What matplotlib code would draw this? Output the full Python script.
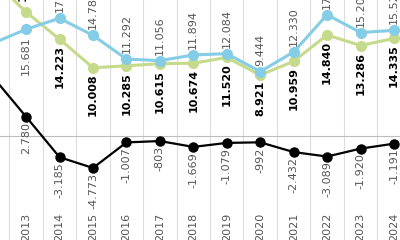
import matplotlib
matplotlib.use("Agg")
import matplotlib.pyplot as plt

plt.rcParams['font.family'] = ['Liberation Sans Narrow', 'DejaVu Sans']

# years (2012 is only partly visible at the left edge)
years = [2012, 2013, 2014, 2015, 2016, 2017, 2018, 2019, 2020, 2021, 2022, 2023, 2024]
# blue series (thousands)
blue = [13.6, 15.681, 17.311, 14.781, 11.292, 11.056, 11.894, 12.084, 9.444, 12.330, 17.832, 15.204, 15.521]
# green series (thousands)
green = [23.0, 18.217, 14.223, 10.008, 10.285, 10.615, 10.674, 11.520, 8.921, 10.959, 14.840, 13.286, 14.335]
# black series = difference (thousands)
black = [8.7, 2.780, -3.185, -4.773, -1.007, -0.803, -1.669, -1.079, -0.992, -2.432, -3.089, -1.920, -1.191]

BLUE = '#85cde6'
GREEN = '#c6da8c'
GRAY = '#555555'
FS = 8


def fmt(v):
    n = int(round(v * 1000))
    return f"{n:,}".replace(',', '.')


fig = plt.figure(figsize=(4, 2.4), dpi=100)
ax = fig.add_axes([0, 0, 1, 1])
ax.set_xlim(2012.22, 2024.18)
ax.set_ylim(-15.4, 20.0)
ax.axis('off')

# vertical separators between years
for y in years:
    ax.axvline(y + 0.5, color='#dcdcdc', lw=0.8, zorder=0)
ax.axhline(0, color='#bdbdbd', lw=0.8, zorder=0)

ax.plot(years, blue, color=BLUE, lw=2.2, marker='o', ms=7, zorder=3)
ax.plot(years, green, color=GREEN, lw=2.2, marker='o', ms=7, zorder=2)
ax.plot(years, black, color='black', lw=1.6, marker='o', ms=6.5, zorder=4)

for i, y in enumerate(years):
    if y == 2012:
        continue
    # blue label above, except 2013 below (green goes above there)
    if y == 2013:
        ax.annotate(fmt(blue[i]), (y, blue[i]), xytext=(0, -7), textcoords='offset pixels',
                    rotation=90, ha='center', va='top', fontsize=FS, color=GRAY)
        ax.annotate(fmt(green[i]), (y, green[i]), xytext=(-3, 11), textcoords='offset pixels',
                    rotation=90, ha='center', va='bottom', fontsize=FS, color='black',
                    fontweight='bold')
    else:
        ax.annotate(fmt(blue[i]), (y, blue[i]), xytext=(0, 6), textcoords='offset pixels',
                    rotation=90, ha='center', va='bottom', fontsize=FS, color=GRAY)
        ax.annotate(fmt(green[i]), (y, green[i]), xytext=(0, -6), textcoords='offset pixels',
                    rotation=90, ha='center', va='top', fontsize=FS, color='black',
                    fontweight='bold')
    ax.annotate(fmt(black[i]), (y, black[i]), xytext=(0, -5), textcoords='offset pixels',
                rotation=90, ha='center', va='top', fontsize=FS, color=GRAY)
    ax.text(y, -13.4, str(y), rotation=90, ha='center', va='center', fontsize=FS, color=GRAY)

fig.savefig('out.png', dpi=100)
